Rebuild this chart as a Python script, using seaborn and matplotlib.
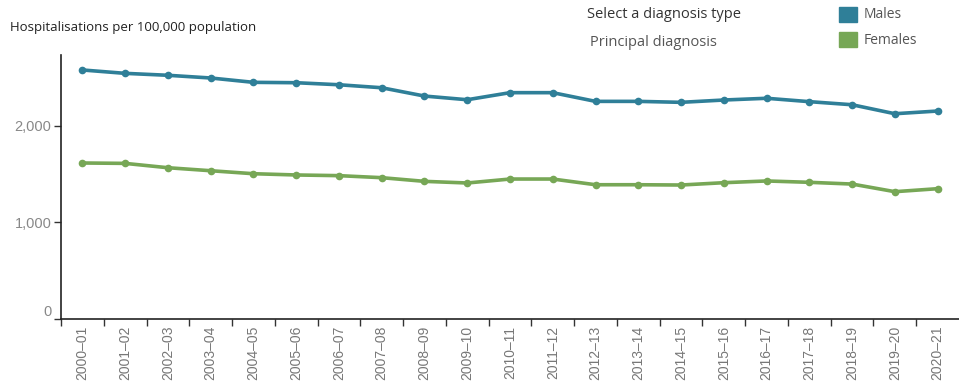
import pandas as pd
import matplotlib
matplotlib.use("Agg")
import matplotlib.pyplot as plt
import matplotlib.patches as mpatches
import matplotlib.transforms as mtransforms
from matplotlib.ticker import FixedLocator, FuncFormatter
import seaborn as sns

# Data
years = ["2000–01", "2001–02", "2002–03", "2003–04", "2004–05", "2005–06", "2006–07",
         "2007–08", "2008–09", "2009–10", "2010–11", "2011–12", "2012–13", "2013–14",
         "2014–15", "2015–16", "2016–17", "2017–18", "2018–19", "2019–20", "2020–21"]
males = [2578, 2543, 2523, 2495, 2450, 2446, 2425, 2394, 2308, 2270, 2343,
         2343, 2253, 2253, 2243, 2267, 2285, 2250, 2218, 2125, 2153]
females = [1615, 1611, 1566, 1535, 1504, 1491, 1484, 1463, 1425, 1408, 1449,
           1449, 1390, 1390, 1387, 1411, 1429, 1415, 1397, 1318, 1349]
series_names = ["Males", "Females"]
y_ticks = [0, 1000, 2000]

colors = {"Males": "#2F7F98", "Females": "#77A756"}

df = pd.DataFrame({
    "year": years * 2,
    "pos": list(range(len(years))) * 2,
    "value": males + females,
    "sex": ["Males"] * len(years) + ["Females"] * len(years),
})

sns.set_style("white")
plt.rcParams["font.family"] = ["Liberation Sans", "DejaVu Sans"]

fig = plt.figure(figsize=(9.59, 3.85), dpi=100)
ax = fig.add_axes([61 / 959, 1 - 319 / 385, 898 / 959, (319 - 55) / 385])

sns.lineplot(data=df, x="pos", y="value", hue="sex", hue_order=series_names,
             palette=colors, marker="o", markersize=5.5, markeredgewidth=0,
             linewidth=2.6, legend=False, ax=ax)

ax.set_xlim(-0.5, len(years) - 0.5)
ax.set_ylim(0, 2733)
ax.set_xlabel("")
ax.set_ylabel("")

# category labels at centres, tick marks at the band edges
ax.xaxis.set_major_locator(FixedLocator(range(len(years))))
ax.set_xticklabels(years, rotation=90, fontsize=10, color="#777777")
ax.tick_params(axis="x", which="major", length=0, pad=5)
ax.xaxis.set_minor_locator(FixedLocator([i - 0.5 for i in range(len(years))]))
ax.tick_params(axis="x", which="minor", bottom=True, length=5, width=1, color="#333333")

ax.yaxis.set_major_locator(FixedLocator(y_ticks))
ax.yaxis.set_major_formatter(FuncFormatter(lambda v, p: f"{int(v):,}"))
ax.tick_params(axis="y", left=True, length=5, width=1, color="#333333",
               labelsize=10.5, labelcolor="#888888", pad=2)

# the zero label sits a little above its tick in the original
fig.canvas.draw()
zero_label = ax.get_yticklabels()[0]
zero_label.set_transform(zero_label.get_transform() +
                         mtransforms.ScaledTranslation(0, 8 / 100, fig.dpi_scale_trans))

sns.despine(ax=ax)
for side in ["left", "bottom"]:
    ax.spines[side].set_color("#222222")
    ax.spines[side].set_linewidth(1.2)

fig.text(10 / 959, 1 - 27 / 385, "Hospitalisations per 100,000 population",
         fontsize=9.5, color="#222222", va="center", family=["Open Sans", "DejaVu Sans"])
fig.text(587 / 959, 1 - 15 / 385, "Select a diagnosis type",
         fontsize=10.5, color="#333333", va="center", family=["Open Sans", "DejaVu Sans"])
fig.text(590 / 959, 1 - 42 / 385, "Principal diagnosis",
         fontsize=10.5, color="#555555", va="center", family=["Open Sans", "DejaVu Sans"])

# legend swatches
for i, name in enumerate(series_names):
    top = 7 + i * 25
    fig.patches.append(mpatches.Rectangle((839 / 959, 1 - (top + 15) / 385), 18 / 959, 15 / 385,
                                          transform=fig.transFigure, color=colors[name]))
    fig.text(864 / 959, 1 - (top + 8) / 385, name, fontsize=10, color="#555555",
             va="center", family=["Open Sans", "DejaVu Sans"])

fig.savefig("out.png", dpi=100)
